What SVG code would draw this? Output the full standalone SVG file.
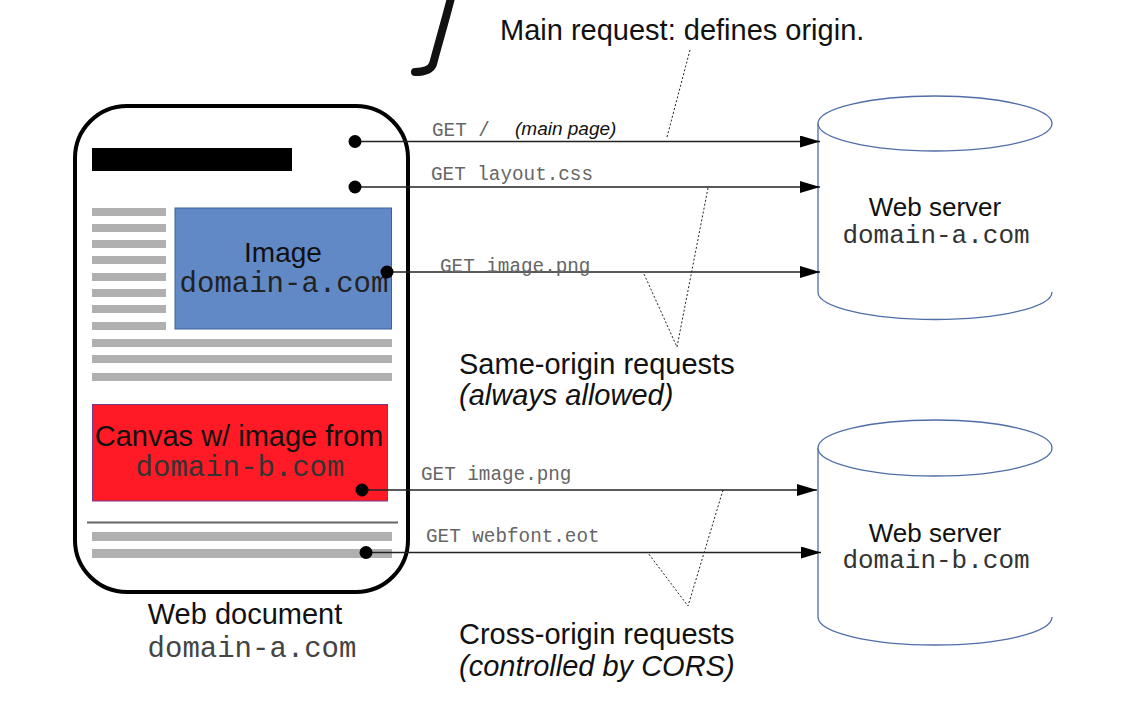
<svg xmlns="http://www.w3.org/2000/svg" width="1125" height="716" viewBox="0 0 1125 716">
<defs>
<style>
.sans{font-family:"Liberation Sans",Arial,sans-serif;fill:#111}
.mono{font-family:"Liberation Mono","Courier New",monospace}
.get{font-family:"Liberation Mono","Courier New",monospace;font-size:19.3px;fill:#666}
.gl{fill:#b0b0b0}
.conn{stroke:#222;stroke-width:1.3;fill:none}
.dot{fill:#000}
.dotted{stroke:#222;stroke-width:1;stroke-dasharray:2 2;fill:none}
.cyl{fill:#fff;stroke:#4f6ea8;stroke-width:1.3}
</style>
<marker id="ah" viewBox="0 0 20 12" refX="20" refY="6" markerWidth="20" markerHeight="12" markerUnits="userSpaceOnUse" orient="auto">
<path d="M0,0 L20,6 L0,12 z" fill="#000"/>
</marker>
<clipPath id="crop"><rect x="0" y="0" width="1053" height="716"/></clipPath>
</defs>
<rect width="1125" height="716" fill="#fff"/>

<path d="M451,-2 C444,25 438,45 433,64 Q430,72 415,72" fill="none" stroke="#111" stroke-width="8" stroke-linecap="round"/>

<g id="web-document">
<rect x="75" y="106" width="333" height="486" rx="52" fill="#fff" stroke="#000" stroke-width="4"/>
<rect x="92" y="148" width="200" height="23" fill="#000"/>
<rect class="gl" x="92" y="208" width="74" height="8"/>
<rect class="gl" x="92" y="224" width="74" height="8"/>
<rect class="gl" x="92" y="240" width="74" height="8"/>
<rect class="gl" x="92" y="256" width="74" height="8"/>
<rect class="gl" x="92" y="273" width="74" height="8"/>
<rect class="gl" x="92" y="289" width="74" height="8"/>
<rect class="gl" x="92" y="305" width="74" height="8"/>
<rect class="gl" x="92" y="322" width="74" height="8"/>
<rect class="gl" x="92" y="339" width="300" height="8"/>
<rect class="gl" x="92" y="355" width="300" height="8"/>
<rect class="gl" x="92" y="373" width="300" height="8"/>
<line x1="87" y1="522.5" x2="398" y2="522.5" stroke="#666" stroke-width="2"/>
<rect class="gl" x="92" y="532" width="300" height="9"/>
<rect class="gl" x="92" y="549" width="300" height="9"/>
<text class="sans" x="245" y="624" font-size="29" text-anchor="middle">Web document</text>
<text class="mono" x="252" y="657" font-size="29" fill="#444" text-anchor="middle">domain-a.com</text>
</g>

<g id="image-a">
<rect x="175" y="208" width="216.5" height="121" fill="#6189c6" stroke="#3d5f9e" stroke-width="1"/>
<text class="sans" x="283" y="262" font-size="28" text-anchor="middle">Image</text>
<text class="mono" x="284" y="292" font-size="29" fill="#222" text-anchor="middle">domain-a.com</text>
</g>

<g id="canvas-b">
<rect x="92.5" y="404.5" width="295" height="96.5" fill="#ff1a26" stroke="#7a3a8a" stroke-width="1"/>
<text class="sans" x="239" y="446" font-size="29" text-anchor="middle">Canvas w/ image from</text>
<text class="mono" x="240" y="476" font-size="29" fill="#333" text-anchor="middle">domain-b.com</text>
</g>

<g id="server-a" clip-path="url(#crop)">
<path class="cyl" d="M818,123.5 L818,292 A117,27.5 0 0 0 1052,292"/>
<ellipse class="cyl" cx="935" cy="123.5" rx="117" ry="27.5"/>
<text class="sans" x="935" y="216" font-size="26" text-anchor="middle">Web server</text>
<text class="mono" x="936" y="243" font-size="26" fill="#333" text-anchor="middle">domain-a.com</text>
</g>

<g id="server-b" clip-path="url(#crop)">
<path class="cyl" d="M818,448 L818,617 A117,28 0 0 0 1052,617"/>
<ellipse class="cyl" cx="935" cy="448" rx="117" ry="28"/>
<text class="sans" x="935" y="542" font-size="26" text-anchor="middle">Web server</text>
<text class="mono" x="936" y="568" font-size="26" fill="#333" text-anchor="middle">domain-b.com</text>
</g>

<g id="connectors">
<line class="conn" x1="355" y1="141.5" x2="820" y2="141.5" marker-end="url(#ah)"/>
<line class="conn" x1="355" y1="187" x2="820" y2="187" marker-end="url(#ah)"/>
<line class="conn" x1="387" y1="272" x2="820" y2="272" marker-end="url(#ah)"/>
<line class="conn" x1="362" y1="490" x2="817" y2="490" marker-end="url(#ah)"/>
<line class="conn" x1="366" y1="552.5" x2="821" y2="552.5" marker-end="url(#ah)"/>
<circle class="dot" cx="355" cy="141.5" r="6.5"/>
<circle class="dot" cx="355" cy="187" r="6.5"/>
<circle class="dot" cx="387" cy="272" r="6.5"/>
<circle class="dot" cx="362" cy="490" r="6.5"/>
<circle class="dot" cx="366" cy="552.5" r="6.5"/>
<text class="get" x="432" y="136">GET /</text>
<text class="sans" x="515" y="135" font-size="19" font-style="italic" fill="#222">(main page)</text>
<text class="get" x="431" y="180">GET layout.css</text>
<text class="get" x="440" y="272">GET image.png</text>
<text class="get" x="421" y="480">GET image.png</text>
<text class="get" x="426" y="542">GET webfont.eot</text>
<line class="dotted" x1="690" y1="50" x2="667" y2="137"/>
<polyline class="dotted" points="708,188 677,347 644,274"/>
<polyline class="dotted" points="723,490 688,606 648,553"/>
</g>

<g id="labels">
<text class="sans" x="500" y="40" font-size="29">Main request: defines origin.</text>
<text class="sans" x="459" y="374" font-size="29">Same-origin requests</text>
<text class="sans" x="459" y="405" font-size="29" font-style="italic">(always allowed)</text>
<text class="sans" x="459" y="644" font-size="29">Cross-origin requests</text>
<text class="sans" x="459" y="676" font-size="29" font-style="italic">(controlled by CORS)</text>
</g>
</svg>
